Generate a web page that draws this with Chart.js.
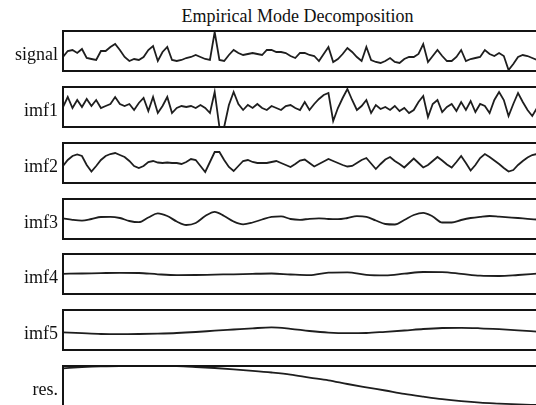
<!DOCTYPE html>
<html lang="en">
<head>
<meta charset="UTF-8">
<title>Empirical Mode Decomposition</title>
<script src="https://cdn.jsdelivr.net/npm/chart.js@4.4.1/dist/chart.umd.min.js"></script>
<style>
    html, body { margin: 0; padding: 0; background: #fff; overflow: hidden; }
    body { width: 536px; height: 405px; position: relative; }
    #titulo {
        position: absolute; left: 62px; width: 471px; top: 7px;
        text-align: center; font: 18px "Liberation Serif", serif; line-height: 18px; color: #111;
    }
    canvas { position: absolute; left: 0; }
</style>
</head>
<body>

<div id="titulo">Empirical Mode Decomposition</div>

<script>
    // sample index 0..100 for the fast components, coarser steps for the slow ones
    var nomes = ['signal', 'imf1', 'imf2', 'imf3', 'imf4', 'imf5', 'res.'];

    var signal = [
        -6, 0, 1, -2, 2, -7, -8, -9, 0, 0,
        4, 7, 1, -6, -10, -8, -9, -6, 1, 5,
        -10, -1, 4, -9, -10, -9, -7, -6, -4, -6,
        -8, -9, 19, -9, -10, -4, 1, -2, -4, -3,
        -2, -3, -4, 1, 1, -1, -1, -2, -5, -7,
        -2, -2, -4, -5, -10, -3, 4, -11, -8, -3,
        3, -1, -6, -10, 4, -9, -11, -12, -10, -7,
        -11, -12, -8, -6, -6, -3, 7, -11, -5, 1,
        -5, -10, -10, -6, 1, -10, -8, -7, -6, 1,
        -3, -5, -2, -5, -19, -13, -6, -4, -5, -7,
        -9
    ];

    var imf1 = [
        0, 10, -1, 7, 0, 8, 1, 7, -1, 1,
        3, 10, 3, 1, 3, -3, 4, 9, -4, 10,
        -6, 1, 10, -6, -1, 1, 0, 1, -1, 2,
        -1, -6, 15, -20, -20, 2, 15, 3, -3, 2,
        -1, 3, -1, -3, 1, -1, -3, 1, 2, -1,
        -3, 5, -3, 3, 8, 12, 14, -14, -1, 9,
        18, 7, -3, 1, 7, -6, 2, -2, 0, -3,
        1, -4, -1, -6, -3, 5, 11, -10, 3, 7,
        -5, 0, 3, -4, 5, -3, 6, -5, 3, 1,
        -6, 7, 15, 7, -9, 3, 14, 5, -3, -9,
        -1
    ];

    var imf2 = [
        -3, 3, 7, 8.5, 7, -2, -8.5, -3, 3, 7,
        9, 10, 8, 6, 2, -3, -5, -3, 1, 2,
        0.5, 0, 0.5, 0, 0, -1, 1, 4, 3, -3,
        -9, 1, 11, 11, 3, -4, -8, -3, 2, 3,
        1, 0, 0, 0, 1, 2, 0, -2, -4, -1,
        2.5, 3.5, 0, -3.5, -1, 1.5, 4, 2, 0, -2,
        -3.5, -3, 0, 3, 5, -0.5, -6, -1, 3.5, 6,
        2, -1, -4.5, 0, 4.5, 0, -4.5, -2, 2, 6,
        2.5, -1.5, -4.5, 1, 7, 0, -7.5, -2, 5, 9,
        6, 2.5, -1, -5, -8.5, -7, -2, 2, 5.5, 8,
        9
    ];

    // every 2nd sample
    var imf3 = [
        0.7, -0.8, -1.6, 0, 2, 2.2, 1, -2, -3.2, 1.5,
        5.6, 3, -2.5, -6, -4, 3, 7.2, 3, -2.5, -5.3,
        -3.5, -0.5, 2.2, 2.7, 0, -0.8, 0.2, 0.7, 0, -0.2,
        1, 2.8, 2.2, -1.5, -5, -5.5, -1, 4, 6.2, 2.5,
        -3.5, -3.5, -1, 1, 2.2, 3, 2.4, 1.7, 1, 0.2,
        -0.5
    ];

    // every 4th sample
    var imf4 = [
        0.2, 0.5, 0.9, 1.2, 1, -0.3, -1.1, -1, -0.6, -0.3, 0.2, 0.5,
        -0.5, -1.2, 1.4, 1.7, -0.8, -1.3, 0.3, 2, 1.9, 0.2, -1.7, -2, -1, 0.3
    ];

    var imf5 = [
        -2.3, -3.2, -4, -4.2, -4, -3.6, -3, -2, -0.7, 0.5, 1.7, 2.6, 1.2,
        -1, -2.6, -3.2, -3, -1.8, -0.5, 1, 2, 2.2, 1.7, 0.8, -0.3, -1.7
    ];

    var residuo = [
        17.7, 18.8, 19.6, 20, 20, 20, 19.8, 19, 18, 16.7, 15.2, 13.5, 11.4,
        8.4, 5.6, 2, -1.3, -4.5, -7.8, -10.6, -13.2, -15.2, -16.7, -17.6, -18.4, -19
    ];

    var series = [signal, imf1, imf2, imf3, imf4, imf5, residuo];
    var passos = [1, 1, 1, 2, 4, 4, 4];

    // vertical position of each panel (top edge of the box)
    var topos = [31, 87, 143, 199, 254, 310, 366];

    // box around the plot area
    var moldura = {
        id: 'moldura',
        afterDraw: function (chart) {
            var ctx = chart.ctx;
            var a = chart.chartArea;
            ctx.save();
            ctx.strokeStyle = '#141414';
            ctx.lineWidth = 2;
            ctx.strokeRect(a.left, a.top, a.right - a.left, a.bottom - a.top);
            ctx.restore();
        }
    };

    function painel(k) {
        var cv = document.createElement('canvas');
        cv.width = 560;
        cv.height = 46;
        cv.style.top = (topos[k] - 3) + 'px';
        document.body.appendChild(cv);

        var passo = passos[k];
        var suave = passo > 1;
        var pontos = series[k].map(function (v, i) { return { x: i * passo, y: v }; });

        new Chart(cv, {
            type: 'line',
            data: {
                datasets: [{
                    data: pontos,
                    borderColor: '#1e1e1e',
                    borderWidth: 1.8,
                    pointRadius: 0,
                    tension: suave ? 0.4 : 0,
                    cubicInterpolationMode: suave ? 'monotone' : 'default'
                }]
            },
            options: {
                responsive: false,
                animation: false,
                events: [],
                layout: { padding: { top: 3, bottom: 3, left: 0, right: 23 } },
                plugins: { legend: { display: false }, tooltip: { enabled: false } },
                scales: {
                    x: { type: 'linear', min: 0, max: 100, display: false },
                    y: {
                        min: -20,
                        max: 20,
                        afterFit: function (s) {
                            // fixed label column, no extra room for the label height
                            s.width = 63;
                            s.paddingTop = 0;
                            s.paddingBottom = 0;
                        },
                        // one tick only, carrying the component name
                        afterBuildTicks: function (s) { s.ticks = [{ value: -4 }]; },
                        ticks: {
                            callback: function () { return nomes[k]; },
                            font: { family: '"Liberation Serif", serif', size: 18 },
                            color: '#111',
                            padding: 5
                        },
                        grid: { display: false, drawTicks: false },
                        border: { display: false }
                    }
                }
            },
            plugins: [moldura]
        });
    }

    for (var k = 0; k < nomes.length; k++) {
        painel(k);
    }
</script>
</body>
</html>
